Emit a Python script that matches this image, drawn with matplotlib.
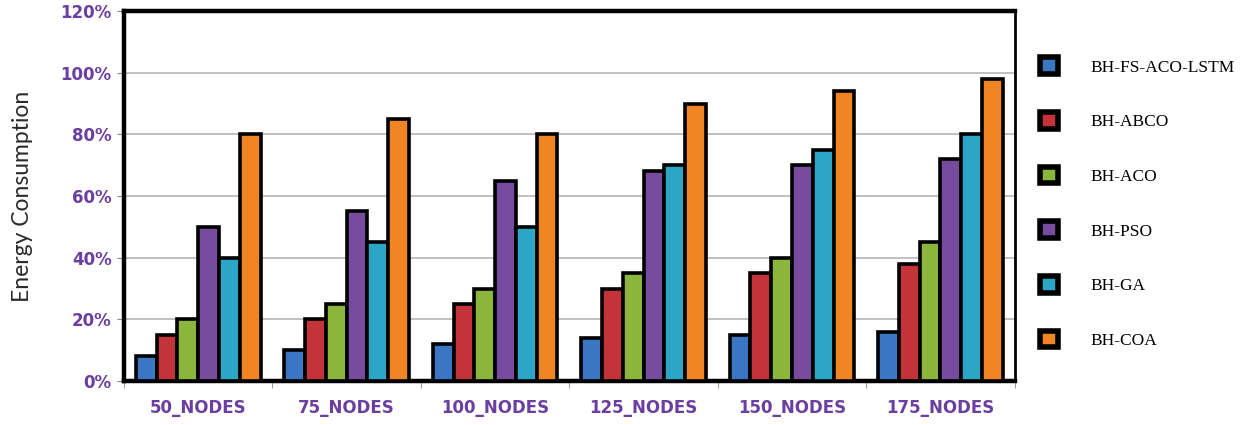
import numpy as np
import matplotlib.pyplot as plt
from matplotlib.patches import Patch
from matplotlib.ticker import FuncFormatter, MultipleLocator

categories = ['50_NODES', '75_NODES', '100_NODES', '125_NODES', '150_NODES', '175_NODES']
methods = ['BH-FS-ACO-LSTM', 'BH-ABCO', 'BH-ACO', 'BH-PSO', 'BH-GA', 'BH-COA']

fs_aco_lstm = [8, 10, 12, 14, 15, 16]
abco = [15, 20, 25, 30, 35, 38]
aco = [20, 25, 30, 35, 40, 45]
pso = [50, 55, 65, 68, 70, 72]
ga = [40, 45, 50, 70, 75, 80]
coa = [80, 85, 80, 90, 94, 98]

series = [fs_aco_lstm, abco, aco, pso, ga, coa]
colors = ['#3b76c2', '#c2343a', '#8cb53d', '#774c9e', '#2ba6c6', '#ef8623']

fig = plt.figure(figsize=(12.48, 4.25), dpi=100)
ax = fig.add_axes([0.0994, 0.1035, 0.7136, 0.8705])

x = np.arange(len(categories))
width = 0.14
for i, (vals, col) in enumerate(zip(series, colors)):
    ax.bar(x + (i - 2.5) * width, vals, width, color=col,
           edgecolor='black', linewidth=2.6, zorder=3)

ax.set_xlim(-0.5, len(categories) - 0.5)
ax.set_ylim(0, 120)
ax.yaxis.set_major_locator(MultipleLocator(20))
ax.yaxis.set_major_formatter(FuncFormatter(lambda v, p: f'{int(v)}%'))
ax.grid(axis='y', color='#b5b5b5', linewidth=1.2, zorder=0)

ax.set_xticks(x)
ax.set_xticklabels(categories)
ax.set_xticks(np.arange(-0.5, len(categories), 1), minor=True)
ax.tick_params(axis='x', which='major', length=0, pad=13)
ax.tick_params(axis='x', which='minor', length=5, color='#888888', direction='out')
ax.tick_params(axis='y', length=5, color='#888888', pad=4)

for lab in ax.get_xticklabels() + ax.get_yticklabels():
    lab.set_color('#6b3fa0')
    lab.set_fontweight('bold')
    lab.set_fontsize(12)
    lab.set_family('DejaVu Sans')

for side in ['left', 'bottom', 'top']:
    ax.spines[side].set_linewidth(3.2)
ax.spines['right'].set_linewidth(2)

ax.set_ylabel('Energy Consumption', fontsize=16.5, family='Lato', color='#2a2a2a', labelpad=20)

handles = [Patch(facecolor=c, edgecolor='black', linewidth=4) for c in colors]
fig.legend(handles, methods, loc='upper left', bbox_to_anchor=(0.821, 0.902),
           frameon=False, handlelength=1.0, handleheight=1.1, handletextpad=1.9,
           labelspacing=2.1, prop={'family': 'Liberation Serif', 'size': 12.5})

fig.savefig('out.png', dpi=100)
